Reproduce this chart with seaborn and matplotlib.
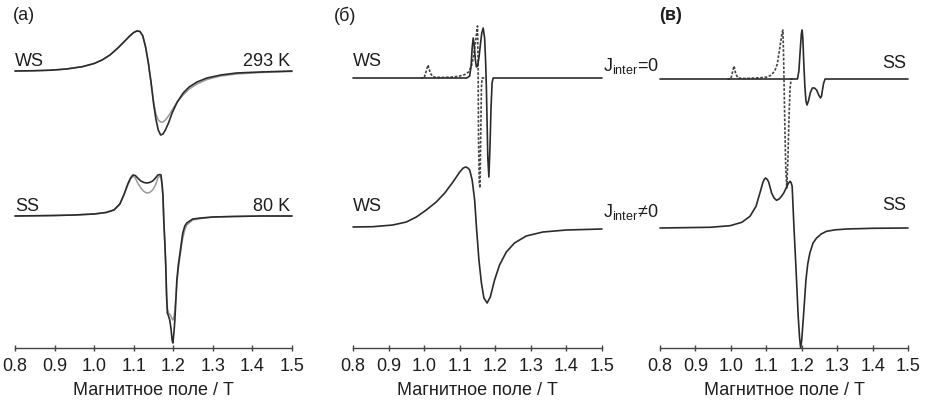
import numpy as np
import pandas as pd
import matplotlib
matplotlib.use("Agg")
import matplotlib.pyplot as plt
import seaborn as sns

# ---------------- data (field in T, signal in arbitrary units) ----------------
# panel (a) WS, 293 K
a_ws_field = [0.80, 0.85, 0.89, 0.93, 0.97, 1.00, 1.02, 1.04, 1.06, 1.075, 1.09, 1.10, 1.108,
              1.116, 1.123, 1.13, 1.137, 1.144, 1.15, 1.156, 1.162, 1.168, 1.174, 1.18, 1.188,
              1.197, 1.21, 1.225, 1.24, 1.26, 1.285, 1.32, 1.36, 1.42, 1.5]
a_ws_exp = [0, 0.3, 0.8, 2, 4.3, 7.5, 11, 16, 23, 29, 35, 38.5, 40, 39.5, 35, 24, 8, -12, -32,
            -48, -59, -64, -63, -59, -52, -42, -31, -22, -16, -11, -7, -4, -2, -1, 0]
a_ws_sim = [0, 0.3, 0.8, 2, 4.3, 7.5, 11, 16, 23, 29, 35, 38.5, 40, 39.5, 35, 24, 8, -12, -30,
            -43, -49, -51, -51, -49, -45, -39, -31, -24, -18, -13, -8.5, -5, -3, -1.5, -0.5]

# panel (a) SS, 80 K
a_ss_field = [0.80, 0.90, 0.95, 1.00, 1.03, 1.05, 1.065, 1.075, 1.085, 1.092,
              1.098, 1.104, 1.11, 1.118, 1.126, 1.133, 1.14, 1.148, 1.155, 1.161,
              1.166, 1.169, 1.172, 1.174, 1.176, 1.179, 1.181, 1.183, 1.185, 1.188,
              1.191, 1.194, 1.197, 1.199, 1.202, 1.204, 1.207, 1.209, 1.213, 1.217,
              1.22, 1.224, 1.229, 1.234, 1.249, 1.27, 1.30, 1.35, 1.42, 1.5]
a_ss_exp = [0, 0.5, 1, 2, 3.5, 6, 12, 21, 32, 38,
            41, 40.5, 38, 35, 33.5, 33, 33.5, 35, 38, 41,
            41.5, 41, 30, 20, -4, -30, -50, -80, -97, -100,
            -104, -112, -124, -127, -115, -104, -80, -64, -48, -37,
            -28, -17, -10, -7, -3, -2, -1, -0.5, 0, 0]
a_ss_sim = [0, 0.5, 1, 2, 3.5, 6, 12, 21, 31, 37,
            40, 38, 33, 28, 24.5, 23, 23.5, 26, 31, 38,
            40, 39, 30, 18, -5, -30, -50, -75, -92, -97,
            -98, -100, -103, -104, -100, -94, -80, -68, -52, -40,
            -32, -22, -14, -9, -4, -2.5, -1, -0.5, 0, 0]

# panel (б) WS, J_inter = 0
b_j0_field = [0.80, 1.12, 1.128, 1.132, 1.135, 1.138, 1.141, 1.144, 1.147, 1.150, 1.154, 1.158,
              1.162, 1.166, 1.170, 1.173, 1.175, 1.177, 1.179, 1.182, 1.185, 1.188, 1.191,
              1.194, 1.5]
b_j0_solid = [0, 0, 2, 12, 30, 40, 32, 18, 11, 12, 20, 33, 45, 50, 40, 15, -10, -45, -80, -99,
              -70, -30, -5, 0, 0]
b_j0_dash_field = [0.99, 1.000, 1.005, 1.011, 1.017, 1.025, 1.05, 1.08, 1.10, 1.115, 1.125,
                   1.133, 1.139, 1.144, 1.148, 1.150, 1.1515, 1.153, 1.155, 1.157, 1.159,
                   1.161, 1.163, 1.17]
b_j0_dash = [0, 0, 6, 13, 5, 1, 0.5, 1, 2, 3.5, 6, 12, 22, 35, 47, 52, 20, -60, -105, -110,
             -60, -10, 0, 0]

# panel (б) WS, J_inter != 0
b_j1_field = [0.800, 0.856, 0.912, 0.950, 0.978, 1.006, 1.034, 1.058, 1.081, 1.100, 1.110,
              1.117, 1.123, 1.128, 1.135, 1.142, 1.147, 1.154, 1.161, 1.168, 1.177, 1.186,
              1.198, 1.212, 1.231, 1.254, 1.287, 1.334, 1.400, 1.500]
b_j1_solid = [0, 0.3, 2, 5, 10, 17, 25, 34, 45, 55, 59, 60, 59, 57, 47, 27, 0, -33, -56, -71,
              -76, -70, -53, -38, -25, -16, -9, -5, -3, -2]

# panel (в) SS, J_inter = 0
c_j0_field = [0.80, 1.188, 1.192, 1.196, 1.199, 1.201, 1.203, 1.206, 1.209, 1.212, 1.215,
              1.219, 1.224, 1.230, 1.236, 1.242, 1.248, 1.253, 1.256, 1.259, 1.262, 1.266, 1.5]
c_j0_solid = [0, 0, 8, 30, 45, 49, 42, 15, -8, -22, -26, -22, -14, -9, -9, -11, -16, -19,
              -17, -10, -4, 0, 0]
c_j0_dash_field = [0.99, 1.000, 1.004, 1.009, 1.014, 1.02, 1.04, 1.07, 1.09, 1.102, 1.115,
                   1.125, 1.131, 1.136, 1.141, 1.145, 1.147, 1.149, 1.152, 1.155, 1.158,
                   1.161, 1.164, 1.167, 1.170, 1.18]
c_j0_dash = [0, 0, 6, 13, 5, 1, 0.5, 1, 1.5, 2, 4, 9, 15, 26, 38, 47, 49, 20, -40, -90, -109,
             -80, -40, -10, 0, 0]

# panel (в) SS, J_inter != 0
c_j1_field = [0.800, 0.941, 0.998, 1.031, 1.054, 1.071, 1.082, 1.090, 1.094, 1.098, 1.103,
              1.107, 1.115, 1.122, 1.129, 1.136, 1.143, 1.150, 1.156, 1.162, 1.167, 1.170,
              1.173, 1.178, 1.184, 1.190, 1.194, 1.197, 1.200, 1.205, 1.212, 1.217, 1.223,
              1.232, 1.242, 1.255, 1.270, 1.295, 1.327, 1.400, 1.500]
c_j1_solid = [0, 0.7, 2.3, 5.7, 11.7, 21.7, 35, 45, 48.5, 50, 48.5, 45.7, 35, 30, 27.7, 29,
              31.7, 35.5, 40, 44.5, 46.7, 45.5, 41.7, 1.7, -41.7, -88, -110, -120, -112, -88,
              -51.7, -36, -25, -15, -10, -6, -3.3, -1.8, -1, -0.3, 0]

x_ticks = [0.8, 0.9, 1.0, 1.1, 1.2, 1.3, 1.4, 1.5]
x_ticklabels = ["0.8", "0.9", "1.0", "1.1", "1.2", "1.3", "1.4", "1.5"]
x_label = "Магнитное поле / Т"
panel_labels = ["(a)", "(б)", "(в)"]

# ---------------- style ----------------
sns.set_theme(style="white")
plt.rcParams["font.family"] = ["Liberation Sans", "DejaVu Sans"]
plt.rcParams["mathtext.fontset"] = "custom"
plt.rcParams["mathtext.rm"] = "Liberation Sans"

W, H = 933, 400
fig = plt.figure(figsize=(W / 100, H / 100), dpi=100)

DARK = "#2b2b2b"
GRAY = "#9a9a9a"
TXT = "#1e1e1e"
FS = 13

axes_px = [(15, 292), (353, 602), (660, 908)]
axis_y = 348
axes = []
for (x0, x1) in axes_px:
    ax = fig.add_axes([x0 / W, (H - axis_y) / H, (x1 - x0) / W, axis_y / H])
    ax.set_xlim(0.8, 1.5)
    ax.set_ylim(0, axis_y)
    for s in ["left", "right", "top"]:
        ax.spines[s].set_visible(False)
    ax.spines["bottom"].set_color("#444444")
    ax.spines["bottom"].set_linewidth(1.0)
    ax.set_yticks([])
    ax.set_xticks(x_ticks)
    ax.set_xticklabels(x_ticklabels)
    ax.tick_params(axis="x", direction="inout", length=5, width=1.0, color="#444444",
                   labelsize=FS, pad=4.5, labelcolor=TXT, bottom=True)
    ax.patch.set_alpha(0)
    axes.append(ax)


def draw(ax, field, signal, offset, color, lw=1.1, ls="-"):
    df = pd.DataFrame({"B": field, "I": np.asarray(signal, dtype=float) + offset})
    sns.lineplot(data=df, x="B", y="I", ax=ax, color=color, lw=lw, linestyle=ls,
                 estimator=None, sort=False, clip_on=False)
    ax.set_xlabel(x_label, fontsize=FS, color=TXT, labelpad=5)
    ax.set_ylabel("")


dash = (0, (1.6, 1.0))
# panel (a)
draw(axes[0], a_ws_field, a_ws_sim, axis_y - 71, GRAY, lw=1.1)
draw(axes[0], a_ws_field, a_ws_exp, axis_y - 71, DARK, lw=1.2)
draw(axes[0], a_ss_field, a_ss_sim, axis_y - 216, GRAY, lw=1.1)
draw(axes[0], a_ss_field, a_ss_exp, axis_y - 216, DARK, lw=1.2)
# panel (б)
draw(axes[1], b_j0_dash_field, b_j0_dash, axis_y - 78, "#444444", lw=1.2, ls=dash)
draw(axes[1], b_j0_field, b_j0_solid, axis_y - 78, DARK, lw=1.2)
draw(axes[1], b_j1_field, b_j1_solid, axis_y - 227, DARK, lw=1.2)
# panel (в)
draw(axes[2], c_j0_dash_field, c_j0_dash, axis_y - 79, "#444444", lw=1.2, ls=dash)
draw(axes[2], c_j0_field, c_j0_solid, axis_y - 79, DARK, lw=1.2)
draw(axes[2], c_j1_field, c_j1_solid, axis_y - 228, DARK, lw=1.2)


def ftext(x, y, s, ha="left", **kw):
    fig.text(x / W, 1 - y / H, s, ha=ha, va="center", fontsize=FS, color=TXT, **kw)


ftext(13, 16, panel_labels[0])
ftext(334, 16, panel_labels[1])
ftext(659, 15, panel_labels[2], fontweight="bold")

ftext(15, 62, "WS")
ftext(290, 62, "293 K", ha="right")
ftext(15, 207, "SS")
ftext(290, 207, "80 K", ha="right")

ftext(353, 62, "WS")
ftext(353, 207, "WS")
ftext(603, 66, r"J$_{\mathregular{inter}}$=0")
ftext(603, 212, r"J$_{\mathregular{inter}}$≠0")

ftext(906, 63, "SS", ha="right")
ftext(906, 206, "SS", ha="right")

fig.savefig("out.png", dpi=100)
